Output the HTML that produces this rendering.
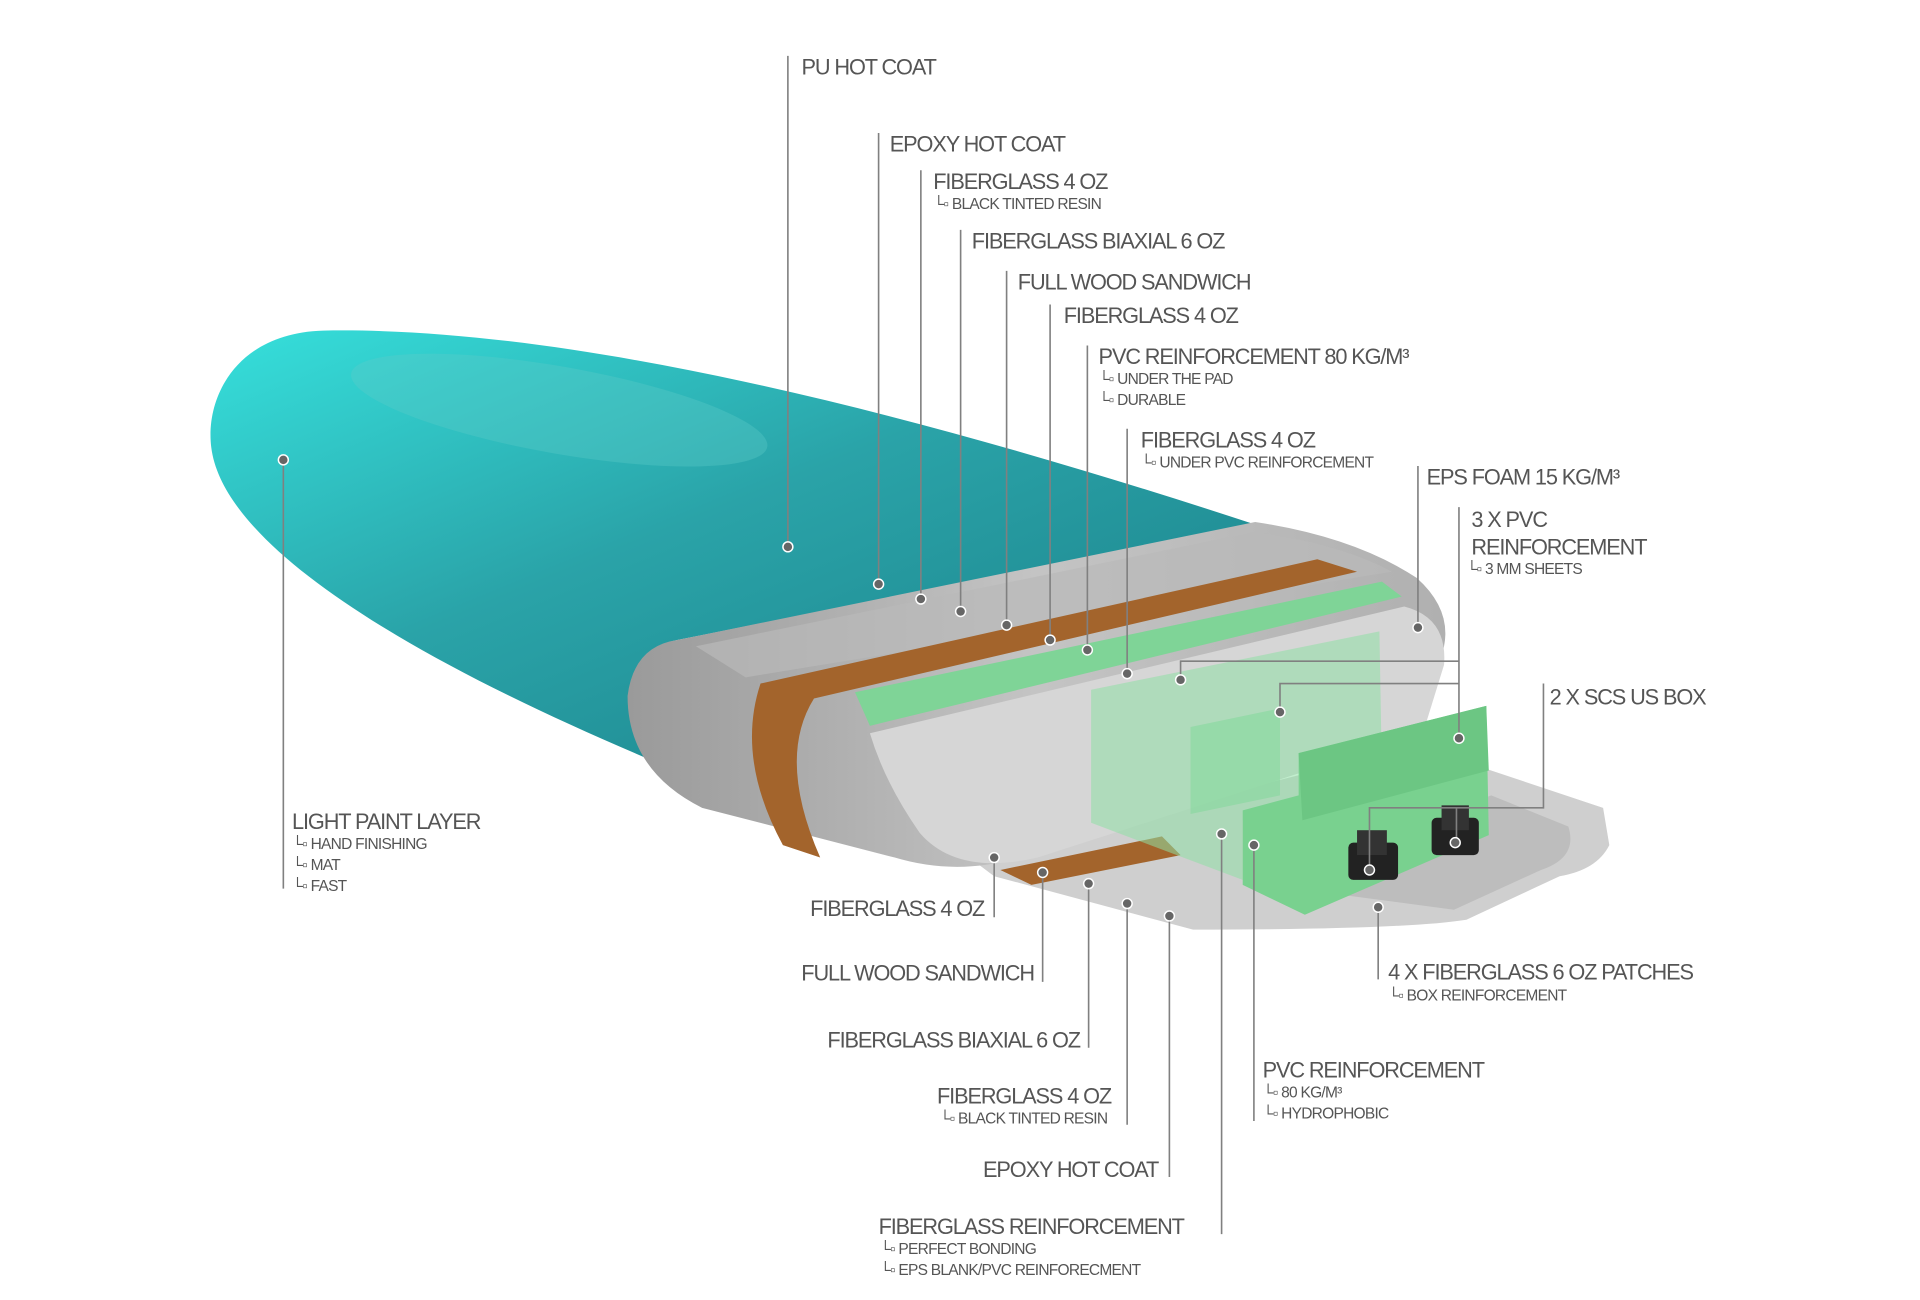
<!DOCTYPE html>
<html><head><meta charset="utf-8"><style>
html,body{margin:0;padding:0;background:#fff;}
svg{display:block;}
.m{font-family:"Liberation Sans",sans-serif;font-size:17.5px;fill:#555;letter-spacing:-0.9px;}
.s{font-family:"Liberation Sans",sans-serif;font-size:12.5px;fill:#555;letter-spacing:-0.6px;}
.l{stroke:#808080;stroke-width:1.3;fill:none;}
.d{fill:#666;stroke:#fff;stroke-width:1.2;}
</style></head><body>
<svg width="1920" height="1300" viewBox="0 0 1545 1046" preserveAspectRatio="none">
<defs>
<linearGradient id="teal" x1="0" y1="0" x2="1" y2="1">
<stop offset="0" stop-color="#36e0dc"/><stop offset="0.45" stop-color="#2aa3a8"/><stop offset="1" stop-color="#1a7f88"/>
</linearGradient>
<linearGradient id="gr" x1="0" y1="0" x2="1" y2="0">
<stop offset="0" stop-color="#9a9a9a"/><stop offset="0.5" stop-color="#c4c4c4"/><stop offset="1" stop-color="#b0b0b0"/>
</linearGradient>
</defs>
<!-- teal body -->
<path d="M1010,422 C760,340 470,262 260,266 C190,268 165,320 170,360 C180,440 330,530 525,612 L510,560 Q510,522 545,515 Z" fill="url(#teal)"/>
<ellipse cx="450" cy="330" rx="170" ry="35" fill="#5fcbc8" opacity="0.35" transform="rotate(10 450 330)"/>
<!-- tail bottom sheet -->
<path d="M780,690 L1140,600 L1290,650 L1295,680 Q1285,700 1255,705 L1180,740 Q1130,748 960,748 L800,705 Z" fill="#cfcfcf"/>
<path d="M1070,690 L1200,640 L1262,665 Q1270,690 1240,700 L1170,732 L1080,720 Z" fill="#bdbdbd"/>
<!-- outer gray skin -->
<path d="M545,515 L1010,420 Q1090,432 1140,465 Q1168,490 1162,520 L1150,570 L820,690 Q770,705 720,690 L565,650 Q505,620 505,560 Q510,520 545,515 Z" fill="url(#gr)"/>
<path d="M560,520 L1010,428 Q1080,438 1120,460 L600,545 Z" fill="#b9b9b9" opacity="0.7"/>
<!-- wood -->
<path d="M612,550 L1060,450 L1092,460 L655,562 Q625,610 660,690 L630,680 Q592,610 612,550 Z" fill="#a3642c"/>
<!-- green top strip -->
<path d="M688,557 L1112,468 L1128,480 L700,584 Z" fill="#7fd497"/>
<!-- front face -->
<path d="M700,590 L1130,488 Q1165,497 1162,535 L1145,590 L835,690 Q770,705 740,670 Q712,630 700,590 Z" fill="#d6d6d6"/>
<!-- lower wood strip -->
<path d="M805,700 L935,673 L950,688 L830,712 Z" fill="#a3642c"/>
<!-- translucent green core -->
<path d="M878,555 L1110,508 L1112,622 L1000,660 L1000,708 L878,662 Z" fill="#8fe0a5" opacity="0.55"/>
<path d="M958,585 L1030,570 L1030,640 L958,655 Z" fill="#86d89c" opacity="0.6"/>
<!-- fin box block -->
<path d="M1000,652 L1045,640 L1045,606 L1196,568 L1198,672 L1050,736 L1000,712 Z" fill="#79d18f"/>
<path d="M1045,606 L1196,568 L1198,620 L1048,660 Z" fill="#6cc683"/>
<!-- fin boxes -->
<rect x="1085" y="678" width="40" height="30" rx="4" fill="#222"/>
<rect x="1152" y="658" width="38" height="30" rx="4" fill="#222"/>
<rect x="1092" y="668" width="24" height="20" fill="#333"/>
<rect x="1160" y="648" width="22" height="20" fill="#333"/>

<!-- leader lines -->
<g class="l">
<path d="M634,45V440M707,107V470M741,137V482M773,185V492M810,218V503M845,245V515M875,278V523M907,345V542M1141,375V505"/>
<path d="M1174,408V594M1174,532H950V547M1174,550H1030V573"/>
<path d="M1242,550V650H1102V700M1172,650V678"/>
<path d="M228,370V715"/>
<path d="M800,690V738M839,702V790M876,711V843M907,727V905M941,737V947M983,671V993M1009,680V902M1109,730V788"/>
</g>
<g class="d">
<circle cx="634" cy="440" r="4"/><circle cx="707" cy="470" r="4"/><circle cx="741" cy="482" r="4"/><circle cx="773" cy="492" r="4"/><circle cx="810" cy="503" r="4"/><circle cx="845" cy="515" r="4"/><circle cx="875" cy="523" r="4"/><circle cx="907" cy="542" r="4"/><circle cx="1141" cy="505" r="4"/>
<circle cx="950" cy="547" r="4"/><circle cx="1030" cy="573" r="4"/><circle cx="1174" cy="594" r="4"/>
<circle cx="1102" cy="700" r="4"/><circle cx="1171" cy="678" r="4"/><circle cx="228" cy="370" r="4"/>
<circle cx="800" cy="690" r="4"/><circle cx="839" cy="702" r="4"/><circle cx="876" cy="711" r="4"/><circle cx="907" cy="727" r="4"/><circle cx="941" cy="737" r="4"/><circle cx="983" cy="671" r="4"/><circle cx="1009" cy="680" r="4"/><circle cx="1109" cy="730" r="4"/>
</g>

<!-- labels -->
<text class="m" x="645" y="60">PU HOT COAT</text>
<text class="m" x="716" y="122">EPOXY HOT COAT</text>
<text class="m" x="751" y="152">FIBERGLASS 4 OZ</text>
<text class="s" x="751" y="168">└▫ BLACK TINTED RESIN</text>
<text class="m" x="782" y="200">FIBERGLASS BIAXIAL 6 OZ</text>
<text class="m" x="819" y="233">FULL WOOD SANDWICH</text>
<text class="m" x="856" y="260">FIBERGLASS 4 OZ</text>
<text class="m" x="884" y="293">PVC REINFORCEMENT 80 KG/M³</text>
<text class="s" x="884" y="309">└▫ UNDER THE PAD</text>
<text class="s" x="884" y="326">└▫ DURABLE</text>
<text class="m" x="918" y="360">FIBERGLASS 4 OZ</text>
<text class="s" x="918" y="376">└▫ UNDER PVC REINFORCEMENT</text>
<text class="m" x="1148" y="390">EPS FOAM 15 KG/M³</text>
<text class="m" x="1184" y="424">3 X PVC</text>
<text class="m" x="1184" y="446">REINFORCEMENT</text>
<text class="s" x="1180" y="462">└▫  3 MM SHEETS</text>
<text class="m" x="1247" y="567">2 X SCS US BOX</text>
<text class="m" x="235" y="667">LIGHT PAINT LAYER</text>
<text class="s" x="235" y="683">└▫ HAND FINISHING</text>
<text class="s" x="235" y="700">└▫ MAT</text>
<text class="s" x="235" y="717">└▫ FAST</text>
<text class="m" x="792" y="737" text-anchor="end">FIBERGLASS 4 OZ</text>
<text class="m" x="832" y="789" text-anchor="end">FULL WOOD SANDWICH</text>
<text class="m" x="869" y="843" text-anchor="end">FIBERGLASS BIAXIAL 6 OZ</text>
<text class="m" x="754" y="888">FIBERGLASS 4 OZ</text>
<text class="s" x="756" y="904">└▫ BLACK TINTED RESIN</text>
<text class="m" x="932" y="947" text-anchor="end">EPOXY HOT COAT</text>
<text class="m" x="707" y="993">FIBERGLASS REINFORCEMENT</text>
<text class="s" x="708" y="1009">└▫ PERFECT BONDING</text>
<text class="s" x="708" y="1026">└▫ EPS BLANK/PVC REINFORECMENT</text>
<text class="m" x="1016" y="867">PVC REINFORCEMENT</text>
<text class="s" x="1016" y="883">└▫ 80 KG/M³</text>
<text class="s" x="1016" y="900">└▫ HYDROPHOBIC</text>
<text class="m" x="1117" y="788">4 X FIBERGLASS 6 OZ PATCHES</text>
<text class="s" x="1117" y="805">└▫ BOX REINFORCEMENT</text>
</svg>
</body></html>
